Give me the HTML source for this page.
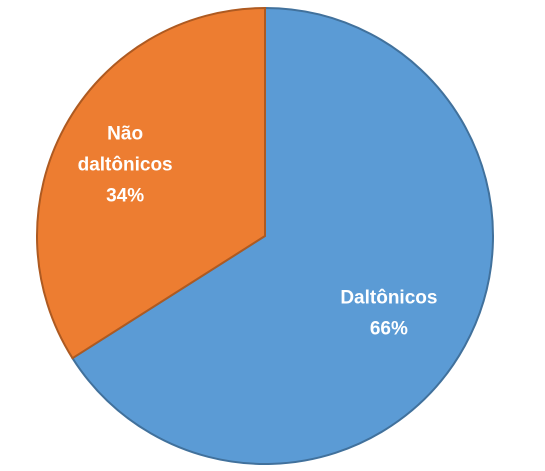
<!DOCTYPE html>
<html><head><meta charset="utf-8"><style>
html,body{margin:0;padding:0;background:#fff;}
svg{display:block;}
text{font-family:"Liberation Sans",sans-serif;font-weight:bold;font-size:19px;fill:#fff;text-anchor:middle;}
</style></head><body>
<svg id="chart" width="545" height="471"></svg>
<script>
const categories = ["Daltônicos", "Não daltônicos"];
const values = [66, 34];
const colors = ["#5B9BD5", "#ED7D31"];
const strokes = ["#41719C", "#AE5A21"];
const labelLines = [["Daltônicos", "66%"], ["Não", "daltônicos", "34%"]];
const svg = document.getElementById('chart');
const NS = "http://www.w3.org/2000/svg";
const cx = 265, cy = 236, r = 228;
const total = values.reduce((a, b) => a + b, 0);
let start = 0;
function pt(a, rr) { return [cx + rr * Math.sin(a), cy - rr * Math.cos(a)]; }
values.forEach((v, i) => {
  const a0 = start / total * 2 * Math.PI;
  const a1 = (start + v) / total * 2 * Math.PI;
  const p0 = pt(a0, r), p1 = pt(a1, r);
  const large = (a1 - a0) > Math.PI ? 1 : 0;
  const path = document.createElementNS(NS, 'path');
  path.setAttribute('d', `M${cx},${cy} L${p0[0]},${p0[1]} A${r},${r} 0 ${large} 1 ${p1[0]},${p1[1]} Z`);
  path.setAttribute('fill', colors[i]);
  path.setAttribute('stroke', strokes[i]);
  path.setAttribute('stroke-width', '2');
  
  
  svg.appendChild(path);
  start += v;
});
start = 0;
const labelRadius = [0.61, 0.64];
const labelShift = [[2, 9], [-12, -2]];
values.forEach((v, i) => {
  const mid = (start + v / 2) / total * 2 * Math.PI;
  const p = pt(mid, r * labelRadius[i]);
  p[0] += labelShift[i][0]; p[1] += labelShift[i][1];
  const lines = labelLines[i];
  const lh = 31;
  const y0 = p[1] - (lines.length - 1) * lh / 2 + 7;
  const t = document.createElementNS(NS, 'text');
  
  
  lines.forEach((ln, k) => {
    const ts = document.createElementNS(NS, 'tspan');
    ts.setAttribute('x', p[0]);
    ts.setAttribute('y', y0 + k * lh);
    ts.textContent = ln;
    t.appendChild(ts);
  });
  svg.appendChild(t);
  start += v;
});
</script>
</body></html>
